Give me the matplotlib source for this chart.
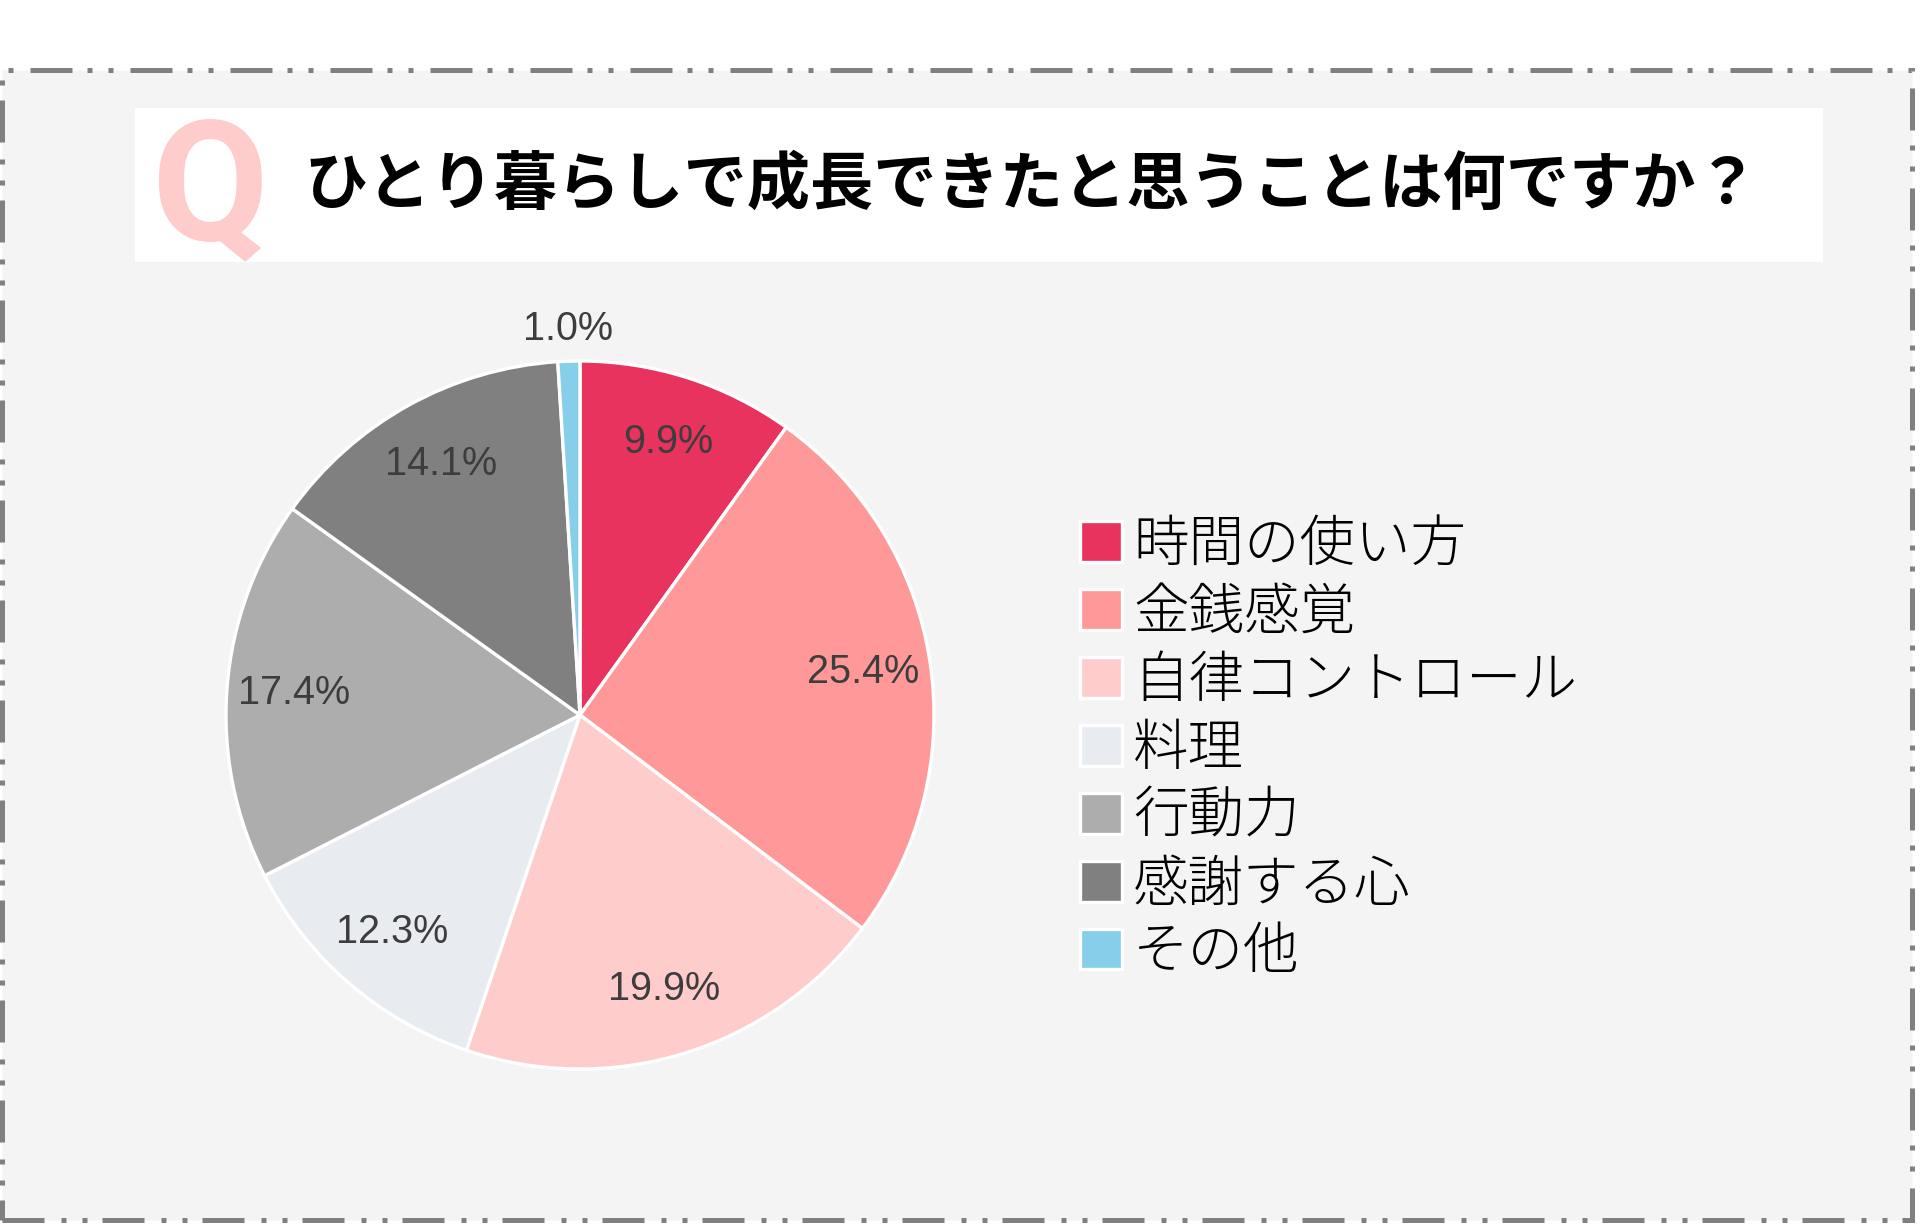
import matplotlib
matplotlib.use("Agg")
import matplotlib.pyplot as plt
from matplotlib.patches import Rectangle
import numpy as np

plt.rcParams['font.family'] = ['Noto Sans CJK JP', 'DejaVu Sans']

title = "ひとり暮らしで成長できたと思うことは何ですか？"
labels = ["時間の使い方", "金銭感覚", "自律コントロール", "料理", "行動力", "感謝する心", "その他"]
values = [9.9, 25.4, 19.9, 12.3, 17.4, 14.1, 1.0]
colors = ["#E8335F", "#FF9999", "#FFCCCC", "#E8EBF0", "#ADADAD", "#808080", "#87CEEB"]

W, H = 1920, 1225
fig = plt.figure(figsize=(W / 100, H / 100), dpi=100)
fig.patch.set_facecolor("white")

# grey panel with dash-dot-dot border
px = 72 / 100  # points per pixel
lw = 5 * px
panel = Rectangle((2 / W, (H - 1220) / H), 1910 / W, 1150 / H,
                  transform=fig.transFigure, facecolor="#F4F4F4",
                  edgecolor="#808080", linewidth=lw,
                  linestyle=(0, (8.4, 3.4, 1, 3.2, 1, 3.0)), zorder=-2)
fig.patches.append(panel)

# white title box
box = Rectangle((135 / W, (H - 262) / H), (1823 - 135) / W, (262 - 108) / H,
                transform=fig.transFigure, facecolor="white", edgecolor="none", zorder=-1)
fig.patches.append(box)

fig.text(211 / W, (H - 193) / H, "Q", color="#FFCCCC", fontsize=122,
         fontweight="bold", family=["Roboto", "DejaVu Sans"],
         ha="center", va="center", zorder=2)
fig.text(304 / W, (H - 185) / H, title, color="black", fontsize=45.5,
         fontweight="bold", ha="left", va="center", zorder=2)

# pie
cx, cy, R = 580, 715, 354
side = 2 * R * 1.2
ax = fig.add_axes([(cx - side / 2) / W, (H - cy - side / 2) / H, side / W, side / H])
ax.set_zorder(5)

wedges, _ = ax.pie(values, colors=colors, startangle=90, counterclock=False,
                   radius=1.0, wedgeprops=dict(edgecolor="white", linewidth=2.4))
ax.set_xlim(-1.2, 1.2)
ax.set_ylim(-1.2, 1.2)
ax.set_aspect("equal")
ax.axis("off")

for w, v in zip(wedges, values):
    ang = np.deg2rad((w.theta1 + w.theta2) / 2)
    r = 0.81 if v > 3 else 1.09
    ax.text(r * np.cos(ang), r * np.sin(ang), f"{v:.1f}%", ha="center", va="center",
            fontsize=28.5, color="#3D3D3D", family=["Liberation Sans", "DejaVu Sans"])

fig.legend(wedges, labels, loc="upper left", bbox_to_anchor=(1058 / W, (H - 493) / H),
           frameon=False, handlelength=0.755, handleheight=0.755,
           handletextpad=0.2, labelspacing=0.17, borderaxespad=0,
           prop=dict(family=["Noto Sans CJK JP", "DejaVu Sans"], weight="light", size=40))

fig.savefig("out.png", dpi=100)
